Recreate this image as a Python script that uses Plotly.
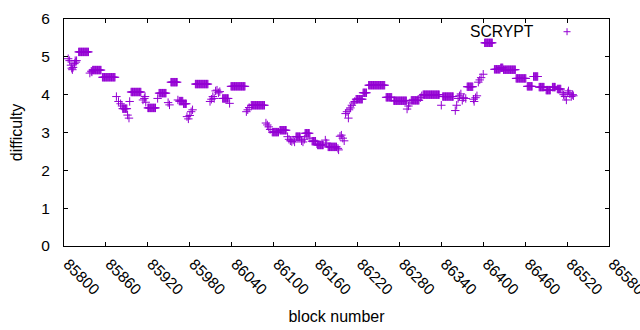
import plotly.graph_objects as go

# Run-length description of the data: consecutive blocks [run_first..run_last] share run_difficulty
run_first = [85806, 85808, 85810, 85811, 85812, 85813, 85815, 85816, 85817, 85818,
             85821, 85837, 85839, 85840, 85841, 85855, 85875, 85878, 85881, 85883,
             85884, 85891, 85893, 85894, 85896, 85913, 85915, 85916, 85917, 85920,
             85934, 85936, 85949, 85951, 85953, 85963, 85965, 85971, 85976, 85978,
             85980, 85982, 85984, 85988, 86009, 86011, 86013, 86015, 86017, 86019,
             86021, 86023, 86027, 86037, 86039, 86061, 86063, 86065, 86068, 86089,
             86091, 86093, 86095, 86098, 86109, 86120, 86122, 86124, 86126, 86128,
             86130, 86132, 86140, 86142, 86144, 86145, 86152, 86155, 86162, 86163,
             86174, 86176, 86178, 86192, 86193, 86195, 86197, 86199, 86201, 86203,
             86205, 86207, 86208, 86210, 86212, 86214, 86216, 86218, 86228, 86236,
             86261, 86272, 86291, 86293, 86295, 86297, 86310, 86312, 86314, 86340,
             86342, 86360, 86362, 86364, 86366, 86368, 86370, 86372, 86375, 86377,
             86386, 86387, 86389, 86391, 86393, 86395, 86397, 86400, 86402, 86416,
             86425, 86429, 86447, 86463, 86472, 86480, 86490, 86499, 86506, 86513,
             86515, 86517, 86519, 86521, 86522, 86524, 86526, 86528, 86529]
run_last = [85806, 85808, 85810, 85811, 85812, 85813, 85815, 85816, 85817, 85818,
            85835, 85837, 85839, 85840, 85853, 85873, 85875, 85878, 85881, 85883,
            85890, 85891, 85893, 85894, 85910, 85913, 85915, 85916, 85917, 85931,
            85934, 85946, 85949, 85951, 85962, 85963, 85970, 85975, 85976, 85978,
            85980, 85982, 85984, 86006, 86009, 86011, 86013, 86015, 86017, 86019,
            86021, 86023, 86035, 86037, 86059, 86061, 86063, 86065, 86087, 86089,
            86091, 86093, 86095, 86107, 86118, 86120, 86122, 86124, 86126, 86128,
            86130, 86138, 86140, 86142, 86144, 86151, 86152, 86160, 86162, 86171,
            86174, 86176, 86190, 86192, 86193, 86195, 86197, 86199, 86201, 86203,
            86205, 86207, 86208, 86210, 86212, 86214, 86216, 86227, 86233, 86259,
            86269, 86290, 86291, 86293, 86295, 86308, 86310, 86312, 86337, 86340,
            86357, 86360, 86362, 86364, 86366, 86368, 86370, 86372, 86375, 86385,
            86386, 86387, 86389, 86391, 86393, 86395, 86397, 86400, 86413, 86424,
            86428, 86446, 86461, 86470, 86478, 86487, 86496, 86503, 86511, 86513,
            86515, 86517, 86519, 86521, 86522, 86524, 86526, 86528, 86529]
run_difficulty = [4.95, 4.9, 4.78, 4.7, 4.66, 4.72, 4.82, 4.9, 4.86, 4.9,
                  5.13, 4.57, 4.62, 4.6, 4.65, 4.46, 3.95, 3.82, 3.76, 3.7,
                  3.63, 3.46, 3.38, 3.82, 4.07, 3.86, 3.9, 3.95, 3.8, 3.65,
                  3.9, 4.04, 3.79, 3.73, 4.33, 3.86, 3.83, 3.76, 3.42, 3.36,
                  3.45, 3.55, 3.6, 4.28, 3.82, 3.88, 3.95, 3.9, 4.1, 4.12,
                  4.05, 4.08, 3.9, 3.77, 4.22, 3.55, 3.6, 3.66, 3.72, 3.25,
                  3.2, 3.15, 3.08, 3.01, 3.06, 2.89, 2.82, 2.78, 2.76, 2.8,
                  2.75, 2.89, 2.78, 2.75, 2.82, 2.98, 2.85, 2.77, 2.7, 2.67,
                  2.8, 2.72, 2.62, 2.58, 2.54, 2.9, 2.93, 2.85, 2.78, 3.5,
                  3.55, 3.38, 3.6, 3.65, 3.72, 3.78, 3.82, 3.88, 4.05, 4.25,
                  3.93, 3.84, 3.62, 3.7, 3.78, 3.85, 3.92, 3.97, 4.0, 3.72,
                  3.95, 3.58, 3.72, 3.9, 3.97, 4.02, 3.85, 3.92, 3.9, 4.21,
                  3.88, 3.82, 3.92, 3.97, 4.33, 4.39, 4.45, 4.54, 5.37, 4.67,
                  4.71, 4.66, 4.43, 4.22, 4.48, 4.2, 4.12, 4.2, 4.15, 4.05,
                  4.0, 3.95, 3.86, 4.05, 4.1, 4.02, 3.95, 4.0, 3.97]

series_name = "SCRYPT"
x_ticks = list(range(85800, 86581, 60))
y_ticks = [0, 1, 2, 3, 4, 5, 6]

blocks, diffs = [], []
for a, b, v in zip(run_first, run_last, run_difficulty):
    for blk in range(a, b + 1):
        blocks.append(blk)
        diffs.append(v)

color = "#9400D3"
font = "Liberation Sans, Arial, sans-serif"

fig = go.Figure()
fig.add_trace(go.Scatter(
    x=blocks, y=diffs, mode="markers", name=series_name, showlegend=False,
    marker=dict(symbol="cross-thin", size=6, line=dict(color=color, width=1), color=color),
))

# gnuplot-style key: text then sample symbol
lx, ly = 0.923, 0.944
fig.add_annotation(x=lx - 0.0565, y=ly, xref="paper", yref="paper", text=series_name,
                   showarrow=False, xanchor="right", yanchor="middle",
                   font=dict(family=font, size=15.7, color="#000000"))
fig.add_shape(type="line", xref="paper", yref="paper", xsizemode="pixel", ysizemode="pixel",
              xanchor=lx, yanchor=ly, x0=-3.5, x1=3.5, y0=0, y1=0,
              line=dict(color=color, width=1))
fig.add_shape(type="line", xref="paper", yref="paper", xsizemode="pixel", ysizemode="pixel",
              xanchor=lx, yanchor=ly, x0=0, x1=0, y0=-3.5, y1=3.5,
              line=dict(color=color, width=1))

axis_common = dict(showgrid=False, zeroline=False, showline=True, linecolor="black",
                   linewidth=1, mirror="ticks", ticks="inside", ticklen=4, tickcolor="black",
                   ticklabeloverflow="allow",
                   tickfont=dict(family=font, size=15.5, color="black"))

fig.update_xaxes(range=[85800, 86580], tickvals=x_ticks, ticktext=[str(t) for t in x_ticks],
                 tickangle=45, ticklabelshift=4, ticklabelstandoff=2,
                 title=dict(text="block number", standoff=13,
                            font=dict(family=font, size=16, color="black")),
                 **axis_common)
fig.update_yaxes(range=[0, 6], tickvals=y_ticks, ticktext=[str(t) for t in y_ticks],
                 ticklabelstandoff=10,
                 title=dict(text="difficulty", standoff=14,
                            font=dict(family=font, size=16, color="black")),
                 **axis_common)

fig.update_layout(width=640, height=330, margin=dict(l=64, r=31, t=19, b=84, autoexpand=False),
                  plot_bgcolor="white", paper_bgcolor="white")

fig.write_html("out.html", config={"displayModeBar": False},
               post_script="document.body.style.margin='0';document.body.style.padding='0';document.body.style.overflow='hidden';")
